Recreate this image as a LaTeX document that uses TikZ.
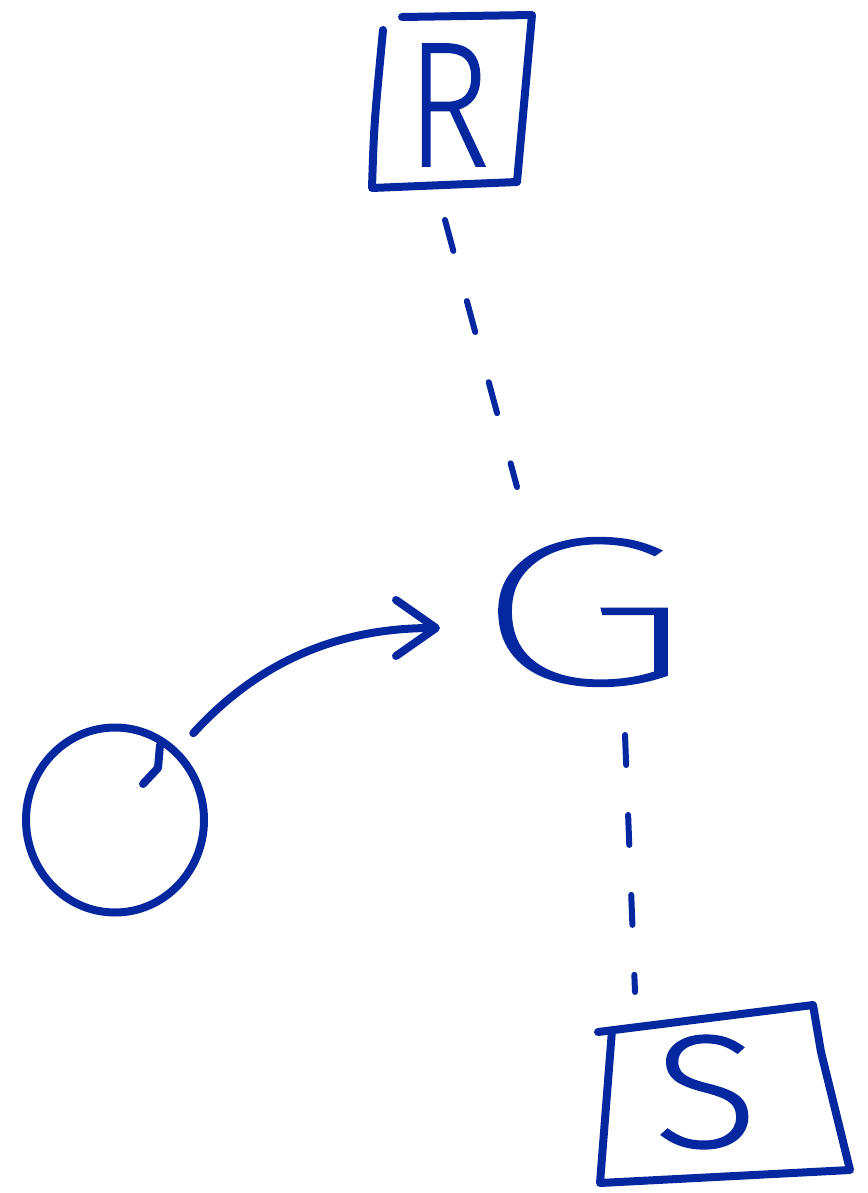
\documentclass[tikz,border=0pt]{standalone}
\usepackage{fontspec}
\usepackage{graphicx}
\newfontfamily\handfont{Fira Sans}[UprightFont={* ExtraLight},FakeBold=1.5]
\newfontfamily\thinhand{Fira Sans}[UprightFont={* Thin},FakeBold=1.5]
\usetikzlibrary{arrows.meta,calc,shapes.geometric}
\definecolor{ink}{RGB}{5,40,160}
\begin{document}
\begin{tikzpicture}[x=1pt,y=-1pt,
  pen/.style={draw=ink,line width=8pt,line cap=round,line join=round},
  letter/.style={text=ink,inner sep=0pt},
  dashlink/.style={draw=ink,line width=6pt,line cap=round},
  ring/.style={ellipse,pen,inner sep=0pt}]
\useasboundingbox (0,0) rectangle (867,1193);

% nodes
\node[letter,font={\handfont\fontsize{177pt}{177pt}\selectfont}] (R) at (448,105) {\scalebox{0.8}[1]{R}};
\node[letter,font={\thinhand\fontsize{210pt}{210pt}\selectfont}] (G) at (582,612) {\scalebox{1.72}[1]{G}};
\node[letter,font={\handfont\fontsize{160pt}{160pt}\selectfont}] (S) at (706,1092) {\scalebox{1.22}[1]{S}};
\node[ring,minimum width=178pt,minimum height=185pt] (O) at (115,820) {};

% hand-drawn boxes
\draw[pen] ($(R)+(-46,-88)$) -- ($(R)+(84,-90)$) -- ($(R)+(69,77)$) -- ($(R)+(-76,83)$)
  .. controls ($(R)+(-74,20)$) .. ($(R)+(-65,-75)$);
\draw[pen] ($(S)+(-108,-60)$) -- ($(S)+(107,-87)$) -- ($(S)+(115,-40)$) -- ($(S)+(144,78)$)
  -- ($(S)+(-106,91)$) -- ($(S)+(-94,-62)$);

% hook on the circle
\draw[pen] ($(O)+(28,-36)$) -- ($(O)+(43,-52)$) -- ($(O)+(45,-75)$);

% connectors
\draw[dashlink,dash pattern=on 32pt off 52pt] ($(R)+(-3,115)$) -- ($(G)+(-65,-125)$);
\draw[dashlink,dash pattern=on 30pt off 50pt] ($(G)+(43,123)$) -- ($(S)+(-71,-100)$);
\draw[pen,-{Straight Barb[length=40pt,width=56pt,round]},shorten <=22pt]
  (O.48) .. controls (260,660) and (340,628) .. ($(G.center)+(-142,16)$);
\end{tikzpicture}
\end{document}
